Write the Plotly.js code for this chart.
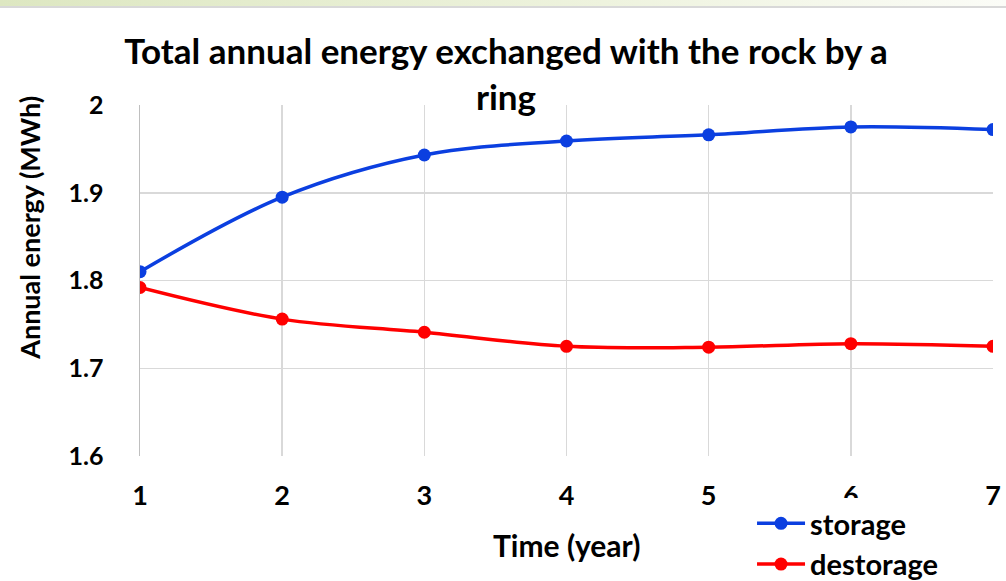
<!DOCTYPE html>
<html>
<head>
<meta charset="utf-8">
<script src="https://cdn.plot.ly/plotly-3.0.1.min.js"></script>
<style>
html,body{margin:0;padding:0;background:#fff;}
#wrap{position:relative;width:1006px;height:581px;overflow:hidden;}
#bar{position:absolute;left:0;top:0;width:1006px;height:6px;background:linear-gradient(to right,#dde7c1,#eef3de 60%,#fbfcf7);border-bottom:2px solid #d8d8d8;z-index:5;}
#chart{position:absolute;left:0;top:0;width:1006px;height:581px;}
</style>
</head>
<body>
<div id="wrap"><div id="bar"></div><div id="chart"></div></div>
<script>
const years = [1, 2, 3, 4, 5, 6, 7];
const storage = [1.810, 1.895, 1.943, 1.959, 1.966, 1.975, 1.972];
const destorage = [1.792, 1.756, 1.741, 1.725, 1.724, 1.728, 1.725];
const yTicks = [1.6, 1.7, 1.8, 1.9, 2.0];
const yTickText = ['1.6', '1.7', '1.8', '1.9', '2'];

const FONT = 'Lato, "Open Sans", sans-serif';

const traces = [
  {x: years, y: storage, name: 'storage', type: 'scatter', mode: 'lines+markers', legendgroup: 'a',
   line: {color: '#0b3fe0', width: 3.5, shape: 'spline', smoothing: 1},
   marker: {color: '#0b3fe0', size: 13}},
  {x: years, y: destorage, name: 'destorage', type: 'scatter', mode: 'lines+markers', legendgroup: 'b',
   line: {color: '#ff0000', width: 3.5, shape: 'spline', smoothing: 1},
   marker: {color: '#ff0000', size: 13}}
];

const layout = {
  width: 1006, height: 581,
  margin: {l: 140, r: 13, t: 105, b: 125},
  paper_bgcolor: '#ffffff', plot_bgcolor: '#ffffff',
  font: {family: FONT, color: '#000'},
  title: {text: 'Total annual energy exchanged with the rock by a<br>ring',
          font: {family: FONT, size: 35, color: '#000', weight: 'bold'},
          x: 0.503, xanchor: 'center', y: 1 - 64/581, yanchor: 'top', yref: 'container'},
  xaxis: {range: [1, 7], tickvals: years, ticktext: years.map(String),
          showgrid: true, gridcolor: '#d9d9d9', gridwidth: 1.5, zeroline: false,
          showline: false, ticks: '', tickfont: {family: FONT, size: 27, color: '#000', weight: 'bold'},
          ticklabelstandoff: 21, automargin: false},
  yaxis: {range: [1.6, 2.0], tickvals: yTicks, ticktext: yTickText, automargin: false,
          showgrid: true, gridcolor: '#d9d9d9', gridwidth: 1.5, zeroline: false,
          showline: true, linecolor: '#bfbfbf', linewidth: 1.5, ticks: '',
          tickfont: {family: FONT, size: 25, color: '#000', weight: 'bold'}, ticklabelstandoff: 30},
  annotations: [
    {text: 'Annual energy (MWh)', xref: 'paper', yref: 'paper',
     x: -0.129, y: 0.65, xanchor: 'center', yanchor: 'middle', textangle: -90,
     showarrow: false, font: {family: FONT, size: 27, color: '#000', weight: 'bold'}},
    {text: 'Time (year)', xref: 'paper', yref: 'paper',
     x: 0.5, y: -0.2536, xanchor: 'center', yanchor: 'middle',
     showarrow: false, font: {family: FONT, size: 30, color: '#000', weight: 'bold'}}
  ],
  legend: {x: 0.7175, xref: 'paper', y: 1 - 498/581, yref: 'container', xanchor: 'left', yanchor: 'top',
           bgcolor: 'rgba(255,255,255,1)',
           font: {family: FONT, size: 29, color: '#000', weight: 'bold'}, tracegroupgap: 0, itemwidth: 48},
  showlegend: true
};
Plotly.newPlot('chart', traces, layout, {displayModeBar: false, staticPlot: true});
</script>
</body>
</html>
